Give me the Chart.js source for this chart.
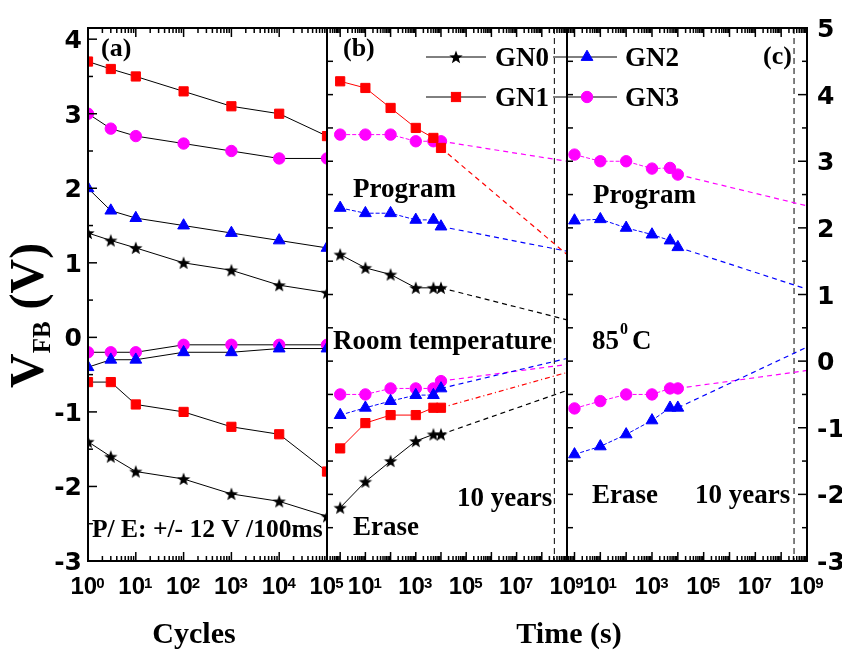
<!DOCTYPE html>
<html><head><meta charset="utf-8">
<script src="https://cdn.jsdelivr.net/npm/chart.js@4.4.0/dist/chart.umd.min.js"></script>
<style>html,body{margin:0;padding:0;background:#fff;}canvas{display:block;}</style>
</head><body>
<canvas id="c" width="842" height="654"></canvas>
<script>
// ---------------- DATA ----------------
const cyclesA = [1, 3, 10, 100, 1000, 10000, 100000];
const timeB = [1, 10, 100, 1000, 5000, 10000];
const timeC = [1, 10, 100, 1000, 5000, 10000];
const tenYears = 3.15e8;
const tEnd = 1e9;

// (a) endurance, left axis
const aProgGN0 = [1.4, 1.3, 1.2, 1.0, 0.9, 0.7, 0.6];
const aProgGN1 = [3.7, 3.6, 3.5, 3.3, 3.1, 3.0, 2.7];
const aProgGN2 = [2.0, 1.7, 1.6, 1.5, 1.4, 1.3, 1.2];
const aProgGN3 = [3.0, 2.8, 2.7, 2.6, 2.5, 2.4, 2.4];
const aEraGN0 = [-1.4, -1.6, -1.8, -1.9, -2.1, -2.2, -2.4];
const aEraGN1 = [-0.6, -0.6, -0.9, -1.0, -1.2, -1.3, -1.8];
const aEraGN2 = [-0.4, -0.3, -0.3, -0.2, -0.2, -0.15, -0.15];
const aEraGN3 = [-0.2, -0.2, -0.2, -0.1, -0.1, -0.1, -0.1];

// (b) retention at room temperature, right axis
const bProgGN0 = [1.6, 1.4, 1.3, 1.1, 1.1, 1.1];
const bProgGN1 = [4.2, 4.1, 3.8, 3.5, 3.35, 3.2];
const bProgGN2 = [2.3, 2.22, 2.22, 2.12, 2.12, 2.02];
const bProgGN3 = [3.4, 3.4, 3.4, 3.3, 3.3, 3.3];
const bEraGN0 = [-2.2, -1.81, -1.5, -1.2, -1.1, -1.1];
const bEraGN1 = [-1.31, -0.93, -0.81, -0.81, -0.7, -0.7];
const bEraGN2 = [-0.81, -0.7, -0.6, -0.51, -0.51, -0.41];
const bEraGN3 = [-0.5, -0.5, -0.41, -0.41, -0.41, -0.3];
// extrapolated values at 1e9 s  [GN0, GN1, GN2, GN3]
const bProgEnd = [0.62, 1.6, 1.65, 3.0];
const bEraEnd = [-0.44, -0.17, 0.04, -0.05];

// (c) retention at 85 C, right axis
const cProgGN2 = [2.11, 2.13, 2.0, 1.9, 1.81, 1.71];
const cProgGN3 = [3.1, 3.0, 3.0, 2.89, 2.9, 2.8];
const cEraGN2 = [-1.4, -1.28, -1.1, -0.89, -0.7, -0.7];
const cEraGN3 = [-0.71, -0.6, -0.5, -0.5, -0.41, -0.41];
// extrapolated values at 1e9 s [GN2, GN3]
const cProgEnd = [1.08, 2.33];
const cEraEnd = [0.21, -0.14];

// tick labels
const xaTickExp = [0, 1, 2, 3, 4, 5];
const xbTickExp = [1, 3, 5, 7, 9];
const xcTickExp = [1, 3, 5, 7, 9];
const ylTicks = [-3, -2, -1, 0, 1, 2, 3, 4];
const yrTicks = [-3, -2, -1, 0, 1, 2, 3, 4, 5];

// ---------------- STYLE ----------------
function makeStar(r) {
  const s = 16, cv = document.createElement('canvas'); cv.width = s; cv.height = s;
  const c = cv.getContext('2d'); c.fillStyle = '#000'; c.beginPath();
  for (let i = 0; i < 10; i++) {
    const rad = i % 2 === 0 ? r : r * 0.42;
    const a = -Math.PI / 2 + i * Math.PI / 5;
    const px = s / 2 + rad * Math.cos(a), py = s / 2 + 0.6 + rad * Math.sin(a);
    if (i) c.lineTo(px, py); else c.moveTo(px, py);
  }
  c.closePath(); c.fill(); return cv;
}
const starImg = makeStar(7);
const color = {GN0: '#000000', GN1: '#ff0000', GN2: '#0000ff', GN3: '#ff00ff'};
const marker = {GN0: starImg, GN1: 'rect', GN2: 'triangle', GN3: 'circle'};
const markerR = {GN0: 7, GN1: 6.5, GN2: 6.8, GN3: 5.7};

function ds(series, xs, ys, xAxisID, yAxisID, lineColor, dash) {
  return {
    label: series, data: xs.map((x, i) => ({x: x, y: ys[i]})), xAxisID: xAxisID, yAxisID: yAxisID,
    borderColor: lineColor, borderWidth: 1, borderDash: dash || [], fill: false, tension: 0, order: 0,
    pointStyle: marker[series], pointRadius: markerR[series], pointBackgroundColor: color[series],
    pointBorderColor: color[series], pointBorderWidth: 1
  };
}
function ext(series, xs, ys, endVal, xAxisID, dash) {
  const n = xs.length - 1;
  return {
    label: series + ' ext', data: [{x: xs[n], y: ys[n]}, {x: tEnd, y: endVal}], xAxisID: xAxisID, yAxisID: 'yr',
    borderColor: color[series], borderWidth: 1.2, borderDash: dash, pointRadius: 0, fill: false, order: 1
  };
}
const D = [5, 4];
const datasets = [
  ds('GN0', cyclesA, aProgGN0, 'xa', 'yl', '#000'),
  ds('GN1', cyclesA, aProgGN1, 'xa', 'yl', '#000'),
  ds('GN2', cyclesA, aProgGN2, 'xa', 'yl', '#000'),
  ds('GN3', cyclesA, aProgGN3, 'xa', 'yl', '#000'),
  ds('GN0', cyclesA, aEraGN0, 'xa', 'yl', '#000'),
  ds('GN1', cyclesA, aEraGN1, 'xa', 'yl', '#000'),
  ds('GN2', cyclesA, aEraGN2, 'xa', 'yl', '#000'),
  ds('GN3', cyclesA, aEraGN3, 'xa', 'yl', '#000'),

  ds('GN0', timeB, bProgGN0, 'xb', 'yr', color.GN0),
  ds('GN1', timeB, bProgGN1, 'xb', 'yr', color.GN1),
  ds('GN2', timeB, bProgGN2, 'xb', 'yr', color.GN2, [4, 2]),
  ds('GN3', timeB, bProgGN3, 'xb', 'yr', color.GN3, [4, 2]),
  ds('GN0', timeB, bEraGN0, 'xb', 'yr', color.GN0),
  ds('GN1', timeB, bEraGN1, 'xb', 'yr', color.GN1),
  ds('GN2', timeB, bEraGN2, 'xb', 'yr', color.GN2, [4, 2]),
  ds('GN3', timeB, bEraGN3, 'xb', 'yr', color.GN3, [4, 2]),
  ext('GN0', timeB, bProgGN0, bProgEnd[0], 'xb', D),
  ext('GN1', timeB, bProgGN1, bProgEnd[1], 'xb', D),
  ext('GN2', timeB, bProgGN2, bProgEnd[2], 'xb', D),
  ext('GN3', timeB, bProgGN3, bProgEnd[3], 'xb', D),
  ext('GN0', timeB, bEraGN0, bEraEnd[0], 'xb', D),
  ext('GN1', timeB, bEraGN1, bEraEnd[1], 'xb', [5, 3, 1, 3]),
  ext('GN2', timeB, bEraGN2, bEraEnd[2], 'xb', D),
  ext('GN3', timeB, bEraGN3, bEraEnd[3], 'xb', D),

  ds('GN2', timeC, cProgGN2, 'xc', 'yr', color.GN2, [4, 2]),
  ds('GN3', timeC, cProgGN3, 'xc', 'yr', color.GN3, [4, 2]),
  ds('GN2', timeC, cEraGN2, 'xc', 'yr', color.GN2, [4, 2]),
  ds('GN3', timeC, cEraGN3, 'xc', 'yr', color.GN3, [4, 2]),
  ext('GN2', timeC, cProgGN2, cProgEnd[0], 'xc', D),
  ext('GN3', timeC, cProgGN3, cProgEnd[1], 'xc', D),
  ext('GN2', timeC, cEraGN2, cEraEnd[0], 'xc', D),
  ext('GN3', timeC, cEraGN3, cEraEnd[1], 'xc', D)
];

// ---------------- DRAWING HELPERS ----------------
const SERIF = '"Liberation Serif", "Times New Roman", serif';
const SANS = '"Liberation Sans", Arial, sans-serif';
function line(ctx, x1, y1, x2, y2) { ctx.beginPath(); ctx.moveTo(x1, y1); ctx.lineTo(x2, y2); ctx.stroke(); }
function txt(ctx, s, x, y, size) { ctx.font = 'bold ' + size + 'px ' + SERIF; ctx.fillText(s, x, y); }
function legendMarker(ctx, series, x, y) {
  ctx.save();
  ctx.fillStyle = color[series]; ctx.strokeStyle = color[series]; ctx.lineWidth = 1; ctx.setLineDash([]);
  const r = markerR[series];
  if (series === 'GN0') { ctx.drawImage(starImg, x - 8, y - 8); }
  else if (series === 'GN1') { const s = r * Math.SQRT1_2; ctx.fillRect(x - s, y - s, 2 * s, 2 * s); ctx.strokeRect(x - s, y - s, 2 * s, 2 * s); }
  else if (series === 'GN2') { ctx.beginPath(); ctx.moveTo(x, y - r); ctx.lineTo(x + r * 0.866, y + r / 2); ctx.lineTo(x - r * 0.866, y + r / 2); ctx.closePath(); ctx.fill(); ctx.stroke(); }
  else { ctx.beginPath(); ctx.arc(x, y, r, 0, Math.PI * 2); ctx.fill(); ctx.stroke(); }
  ctx.restore();
}

const frame = {
  id: 'frame',
  beforeDatasetsDraw(chart) {
    const ctx = chart.ctx, A = chart.chartArea, S = chart.scales;
    ctx.save();
    ctx.strokeStyle = '#000'; ctx.lineWidth = 1; ctx.setLineDash([6, 4]);
    ['xb', 'xc'].forEach(id => { const x = S[id].getPixelForValue(tenYears); line(ctx, x, A.top, x, A.bottom); });
    ctx.restore();
  },
  afterDraw(chart) {
    const ctx = chart.ctx, A = chart.chartArea, S = chart.scales;
    ctx.save();
    ctx.strokeStyle = '#000'; ctx.fillStyle = '#000'; ctx.setLineDash([]);
    // frame and separators
    ctx.lineWidth = 2;
    ctx.strokeRect(A.left, A.top, A.right - A.left, A.bottom - A.top);
    const sepAB = S.xa.getPixelForValue(1e5), sepBC = S.xb.getPixelForValue(1e9);
    [sepAB, sepBC].forEach(x => line(ctx, x, A.top, x, A.bottom));
    // x ticks (inward, top and bottom)
    ctx.lineWidth = 1.5;
    [['xa', 0, 5], ['xb', -1, 9], ['xc', -1, 9]].forEach(([id, e0, e1]) => {
      const sc = S[id];
      for (let e = e0; e <= e1; e++) for (let m = 1; m < 10; m++) {
        const v = m * Math.pow(10, e);
        if (v < sc.min * 0.9999 || v > sc.max * 1.0001) continue;
        const x = sc.getPixelForValue(v), len = m === 1 ? 9 : 5;
        line(ctx, x, A.bottom, x, A.bottom - len);
        line(ctx, x, A.top, x, A.top + len);
      }
    });
    // y ticks
    for (let v = -3; v <= 4.15; v += 0.5) {
      const y = S.yl.getPixelForValue(v);
      line(ctx, A.left, y, A.left + (Number.isInteger(v) ? 9 : 5), y);
    }
    for (let v = -3; v <= 5; v += 0.5) {
      const y = S.yr.getPixelForValue(v);
      line(ctx, A.right, y, A.right - (Number.isInteger(v) ? 9 : 5), y);
      [sepAB, sepBC].forEach(x => line(ctx, x, y, x + 6, y));
    }
    // x tick labels
    const pow = (sc, e) => {
      const x = sc.getPixelForValue(Math.pow(10, e));
      ctx.font = 'bold 24px ' + SANS;
      const w1 = ctx.measureText('10').width;
      ctx.font = 'bold 15px ' + SANS;
      const w2 = ctx.measureText(String(e)).width;
      const x0 = x - (w1 + w2) / 2;
      ctx.textAlign = 'left'; ctx.textBaseline = 'alphabetic';
      ctx.font = 'bold 24px ' + SANS;
      ctx.fillText('10', x0, 594);
      ctx.font = 'bold 15px ' + SANS;
      ctx.fillText(String(e), x0 + w1 - 1, 588);
    };
    xaTickExp.forEach(e => pow(S.xa, e));
    xbTickExp.forEach(e => pow(S.xb, e));
    xcTickExp.forEach(e => pow(S.xc, e));
    // y tick labels
    ctx.font = 'bold 25px "DejaVu Sans", sans-serif';
    ctx.textAlign = 'right';
    ylTicks.forEach(v => ctx.fillText(String(v), 82, S.yl.getPixelForValue(v) + 9));
    ctx.textAlign = 'left';
    yrTicks.forEach(v => ctx.fillText(String(v), 817, S.yr.getPixelForValue(v) + 9));
    // axis titles
    ctx.textAlign = 'left';
    ctx.save(); ctx.translate(43, 388); ctx.rotate(-Math.PI / 2);
    txt(ctx, 'V', 0, 0, 48); let w = ctx.measureText('V').width;
    txt(ctx, 'FB', w, 7, 25); w += ctx.measureText('FB').width;
    txt(ctx, ' (V)', w, 0, 48);
    ctx.restore();
    ctx.textAlign = 'center';
    txt(ctx, 'Cycles', 194, 643, 30);
    txt(ctx, 'Time (s)', 569, 643, 30);
    // panel annotations
    ctx.textAlign = 'left';
    txt(ctx, '(a)', 101, 56, 26);
    txt(ctx, '(b)', 343, 56, 26);
    txt(ctx, '(c)', 763, 64, 26);
    txt(ctx, 'Program', 353, 197, 27);
    txt(ctx, 'Program', 593, 203, 27);
    txt(ctx, 'Room temperature', 333, 349, 27);
    txt(ctx, '85', 592, 349, 27);
    txt(ctx, '0', 620, 334, 16);
    txt(ctx, 'C', 632, 349, 27);
    txt(ctx, 'Erase', 353, 535, 27);
    txt(ctx, '10 years', 457, 506, 27);
    txt(ctx, 'Erase', 592, 503, 27);
    txt(ctx, '10 years', 695, 503, 27);
    txt(ctx, 'P/ E: +/- 12 V /100ms', 92, 537, 25.5);
    // legend
    ctx.strokeStyle = '#000'; ctx.lineWidth = 1;
    const leg = [['GN0', 426, 486, 57, 495], ['GN1', 426, 486, 97, 495], ['GN2', 553, 617, 57, 625], ['GN3', 553, 617, 97, 625]];
    leg.forEach(([s, x1, x2, y, tx]) => {
      line(ctx, x1, y, x2, y);
      legendMarker(ctx, s, (x1 + x2) / 2 + (s === 'GN2' || s === 'GN3' ? 2 : 0), y);
      txt(ctx, s, tx, y + 9, 27);
    });
    ctx.restore();
  }
};

new Chart(document.getElementById('c'), {
  type: 'line',
  data: {datasets: datasets},
  options: {
    responsive: false, animation: false, events: [], devicePixelRatio: 1,
    layout: {padding: {left: 88, right: 35, top: 28, bottom: 93}},
    plugins: {legend: {display: false}, tooltip: {enabled: false}},
    scales: {
      xa: {type: 'logarithmic', position: 'bottom', min: 1, max: 1e5, stack: 'bx', stackWeight: 239, display: false},
      xb: {type: 'logarithmic', position: 'bottom', min: Math.pow(10, -0.46), max: 1e9, stack: 'bx', stackWeight: 240, display: false},
      xc: {type: 'logarithmic', position: 'bottom', min: Math.pow(10, -0.29), max: 1e9, stack: 'bx', stackWeight: 240, display: false},
      yl: {type: 'linear', position: 'left', min: -3, max: 4.15, display: false},
      yr: {type: 'linear', position: 'right', min: -3, max: 5, display: false}
    }
  },
  plugins: [frame]
});
</script>
</body></html>
